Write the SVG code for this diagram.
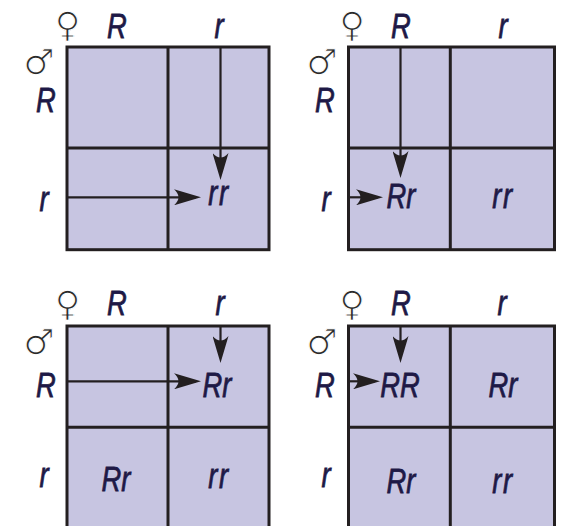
<svg xmlns="http://www.w3.org/2000/svg" width="562" height="526" viewBox="0 0 562 526">
<style>
.box{fill:#c7c5e1;stroke:#231f20;stroke-width:3}
.ln{stroke:#231f20;stroke-width:3;fill:none}
.ar{stroke:#231f20;stroke-width:2.2;fill:none;marker-end:url(#ah)}
.t{font-family:"Liberation Sans",Arial,sans-serif;font-style:italic;font-size:36px;fill:#1e1946;stroke:#1e1946;stroke-width:0.8;text-anchor:middle}
.rr{letter-spacing:2px}
.sym{font-family:"DejaVu Sans",sans-serif;font-size:35px;fill:#2a2a2a;stroke:#ffffff;stroke-width:1.1;text-anchor:middle}
</style>
<defs>
<marker id="ah" markerUnits="userSpaceOnUse" markerWidth="27" markerHeight="16" refX="22" refY="8" orient="auto" viewBox="0 0 27 16">
<path d="M0,0 L27,8 L0,16 Q9,8 0,0 Z" fill="#231f20"/>
</marker>
</defs>
<rect width="562" height="526" fill="#ffffff"/>

<g id="panel1">
<rect class="box" x="67" y="47" width="202" height="202.7"/>
<line class="ln" x1="168" y1="47" x2="168" y2="249.7"/>
<line class="ln" x1="67" y1="148" x2="269" y2="148"/>
<text class="sym" x="67.5" y="36.5">♀</text>
<text class="sym" x="39" y="74">♂</text>
<text class="t" transform="translate(117,38) scale(0.76,1)">R</text>
<text class="t" transform="translate(219,38) scale(0.76,1)">r</text>
<text class="t" transform="translate(46,112) scale(0.76,1)">R</text>
<text class="t" transform="translate(44,211) scale(0.76,1)">r</text>
<text class="t rr" transform="translate(219,205) scale(0.76,1)">rr</text>
</g>

<g id="panel2">
<rect class="box" x="348.5" y="47" width="206" height="202.7"/>
<line class="ln" x1="450.3" y1="47" x2="450.3" y2="249.7"/>
<line class="ln" x1="348.5" y1="148" x2="554.5" y2="148"/>
<text class="sym" x="352" y="36.5">♀</text>
<text class="sym" x="322" y="74">♂</text>
<text class="t" transform="translate(401,38) scale(0.76,1)">R</text>
<text class="t" transform="translate(503,38) scale(0.76,1)">r</text>
<text class="t" transform="translate(325,112) scale(0.76,1)">R</text>
<text class="t" transform="translate(326,211) scale(0.76,1)">r</text>
<text class="t" transform="translate(401,208) scale(0.76,1)">Rr</text>
<text class="t rr" transform="translate(503,208) scale(0.76,1)">rr</text>
</g>

<g id="panel3">
<rect class="box" x="67" y="326" width="202" height="205"/>
<line class="ln" x1="168" y1="326" x2="168" y2="531"/>
<line class="ln" x1="67" y1="427.3" x2="269" y2="427.3"/>
<text class="sym" x="67.5" y="316">♀</text>
<text class="sym" x="39" y="354">♂</text>
<text class="t" transform="translate(117,315) scale(0.76,1)">R</text>
<text class="t" transform="translate(220,315) scale(0.76,1)">r</text>
<text class="t" transform="translate(46,397) scale(0.76,1)">R</text>
<text class="t" transform="translate(44,487) scale(0.76,1)">r</text>
<text class="t" transform="translate(217,397) scale(0.76,1)">Rr</text>
<text class="t" transform="translate(116,491) scale(0.76,1)">Rr</text>
<text class="t rr" transform="translate(219,488) scale(0.76,1)">rr</text>
</g>

<g id="panel4">
<rect class="box" x="348.5" y="326" width="206" height="205"/>
<line class="ln" x1="450.3" y1="326" x2="450.3" y2="531"/>
<line class="ln" x1="348.5" y1="427.3" x2="554.5" y2="427.3"/>
<text class="sym" x="352" y="316">♀</text>
<text class="sym" x="322" y="354">♂</text>
<text class="t" transform="translate(401,315) scale(0.76,1)">R</text>
<text class="t" transform="translate(502,315) scale(0.76,1)">r</text>
<text class="t" transform="translate(325,397) scale(0.76,1)">R</text>
<text class="t" transform="translate(326,487) scale(0.76,1)">r</text>
<text class="t" transform="translate(400,397) scale(0.76,1)">RR</text>
<text class="t" transform="translate(503,397) scale(0.76,1)">Rr</text>
<text class="t" transform="translate(401,493) scale(0.76,1)">Rr</text>
<text class="t rr" transform="translate(503,493) scale(0.76,1)">rr</text>
</g>

<g id="connectors">
<line class="ar" x1="220.5" y1="47" x2="220.5" y2="175"/>
<line class="ar" x1="67" y1="197.3" x2="196" y2="197.3"/>
<line class="ar" x1="400.5" y1="47" x2="400.5" y2="173"/>
<line class="ar" x1="348.5" y1="197.3" x2="378" y2="197.3"/>
<line class="ar" x1="220.5" y1="326" x2="220.5" y2="358"/>
<line class="ar" x1="67" y1="381.3" x2="196" y2="381.3"/>
<line class="ar" x1="400.5" y1="326" x2="400.5" y2="358"/>
<line class="ar" x1="348.5" y1="381.3" x2="375" y2="381.3"/>
</g>
</svg>
